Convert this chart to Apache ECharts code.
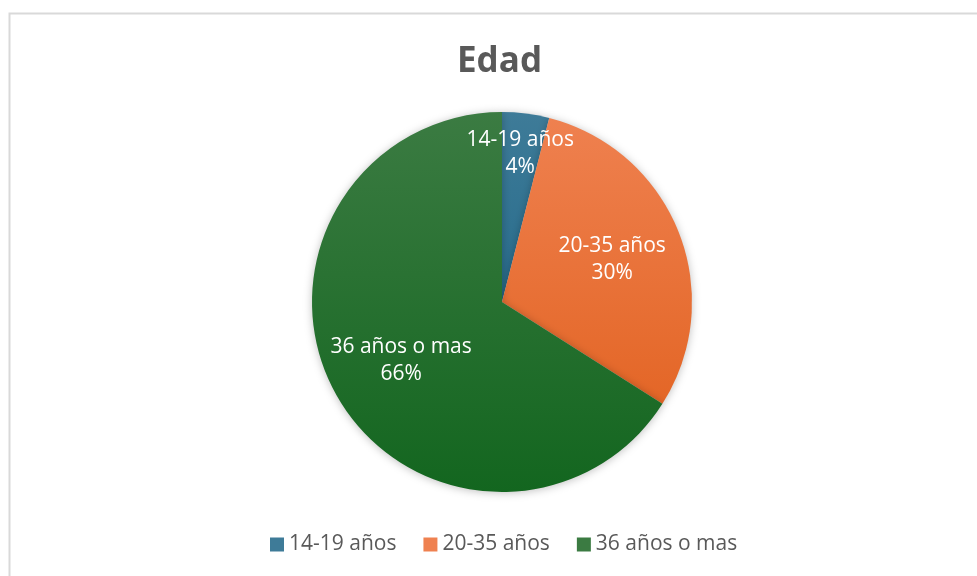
<!DOCTYPE html>
<html>
<head>
<meta charset="utf-8">
<script src="https://cdn.jsdelivr.net/npm/echarts@6/dist/echarts.min.js"></script>
<style>
  html, body { margin: 0; padding: 0; background: #fff; }
  #chart { width: 977px; height: 576px; }
</style>
</head>
<body>
<div id="chart"></div>
<script>
var categorias = ['14-19 años', '20-35 años', '36 años o mas'];
var porcentajes = [4, 30, 66];
var coloresArriba = ['#3e7b98', '#ef8150', '#3b7b42'];
var coloresAbajo = ['#125d80', '#e05e1a', '#13661f'];

var myPie = echarts.init(document.getElementById('chart'));

// corrimiento de etiquetas para imitar el "ajuste óptimo" de Excel
var corrimientos = [[6, -51], [19, -6], [-15, 11]];

var datos = categorias.map(function (c, i) {
  return {
    name: c,
    value: porcentajes[i],
    itemStyle: {
      color: {
        type: 'linear', x: 0, y: 112, x2: 0, y2: 492, global: true,
        colorStops: [{ offset: 0, color: coloresArriba[i] }, { offset: 1, color: coloresAbajo[i] }]
      }
    }
  };
});

var option = {
  backgroundColor: '#fff',
  animation: false,
  graphic: [{
    type: 'rect',
    shape: { x: 9.5, y: 13.5, width: 1000, height: 600 },
    style: { fill: 'none', stroke: '#d9d9d9', lineWidth: 2 },
    z: -1
  }],
  title: {
    text: 'Edad',
    left: 452,
    top: 40,
    textStyle: { fontFamily: 'Open Sans', fontWeight: 'bold', fontSize: 35, color: '#595959' }
  },
  legend: {
    bottom: 16,
    left: 265,
    icon: 'rect',
    itemWidth: 14,
    itemHeight: 14,
    itemGap: 27,
    textStyle: { fontFamily: 'Open Sans', fontSize: 21, color: '#595959' },
    data: categorias
  },
  series: [{
    type: 'pie',
    center: [502, 302],
    radius: 190,
    startAngle: 90,
    clockwise: true,
    minShowLabelAngle: 0,
    data: datos,
    itemStyle: {
      borderWidth: 0,
      shadowBlur: 8,
      shadowColor: 'rgba(0,0,0,0.25)',
      shadowOffsetX: 0,
      shadowOffsetY: 1
    },
    label: {
      show: true,
      position: 'inside',
      formatter: '{b}\n{c}%',
      color: '#ffffff',
      fontFamily: 'Open Sans',
      fontSize: 21,
      lineHeight: 27,
      align: 'center'
    },
    labelLayout: function (p) {
      return { dx: corrimientos[p.dataIndex][0], dy: corrimientos[p.dataIndex][1] };
    },
    labelLine: { show: false },
    emphasis: { disabled: true }
  }]
};

myPie.setOption(option);
</script>
</body>
</html>
